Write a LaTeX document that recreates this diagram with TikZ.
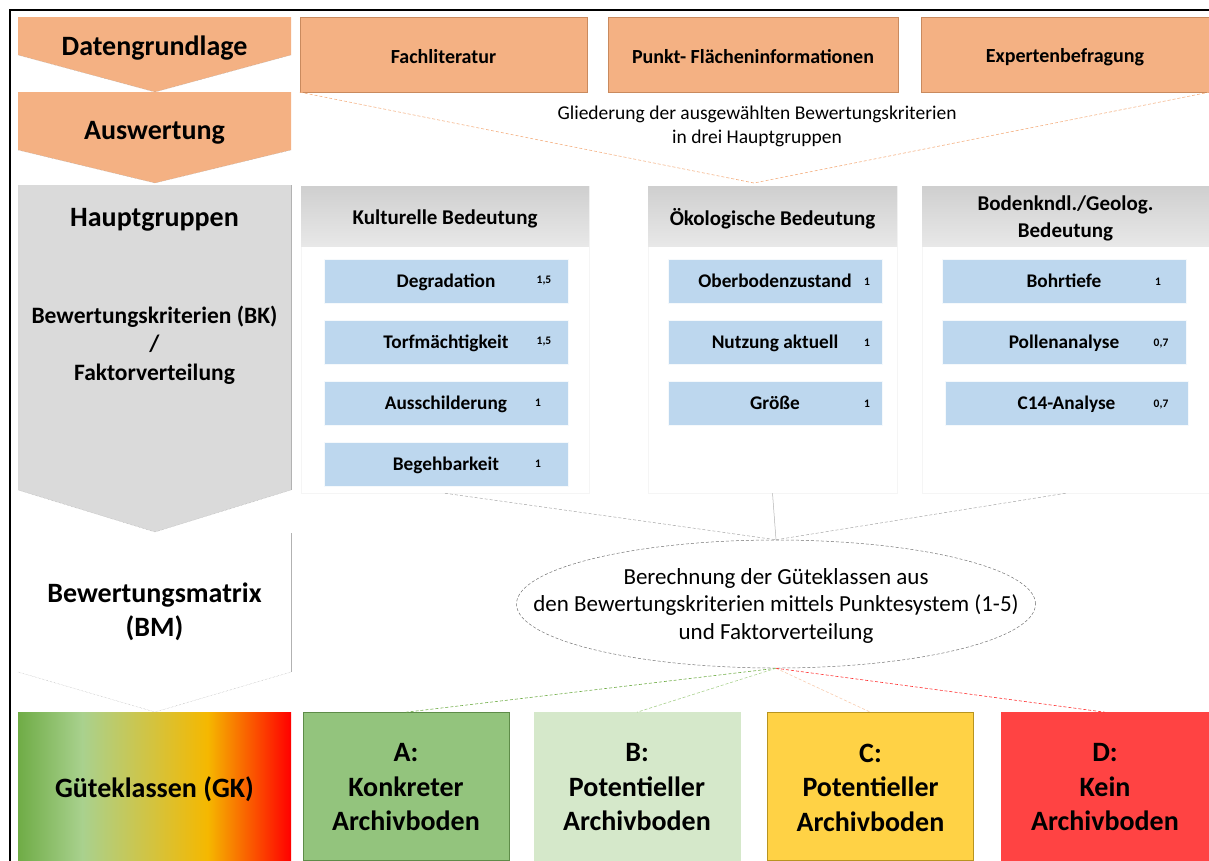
\documentclass[tikz,border=0pt]{standalone}
\usepackage{fontspec}
\setmainfont{Carlito}
\usetikzlibrary{shapes.geometric}
\definecolor{org}{HTML}{F4B183}
\definecolor{orgdark}{HTML}{C98A5E}
\definecolor{orgline}{HTML}{F4B183}
\definecolor{chevgray}{HTML}{DADADA}
\definecolor{headtop}{HTML}{CFCFCF}
\definecolor{headbot}{HTML}{E8E8E8}
\definecolor{critblue}{HTML}{BDD7EE}
\definecolor{gk1}{HTML}{6FAC46}
\definecolor{gk2}{HTML}{A9D18E}
\definecolor{gk3}{HTML}{F5B800}
\definecolor{gk4}{HTML}{FF0000}
\definecolor{cA}{HTML}{93C47D}
\definecolor{cAd}{HTML}{5E8C49}
\definecolor{cB}{HTML}{D5E8CA}
\definecolor{cC}{HTML}{FFD245}
\definecolor{cCd}{HTML}{B8941F}
\definecolor{cD}{HTML}{FF4343}
\definecolor{lA}{HTML}{70AD47}
\definecolor{lB}{HTML}{A9D18E}
\definecolor{lC}{HTML}{F8CBAD}
\definecolor{lD}{HTML}{FF3030}
\pgfdeclarehorizontalshading{gkshade}{100bp}{color(0bp)=(gk1); color(25bp)=(gk1); color(36.8bp)=(gk2); color(59.7bp)=(gk3); color(75bp)=(gk4); color(100bp)=(gk4)}
\begin{document}
\begin{tikzpicture}[x=1pt,y=-1pt,
  bigtxt/.style={font=\fontsize{28}{34}\selectfont\bfseries, align=center, inner sep=0},
  topbox/.style={fill=org, draw=orgdark, line width=0.4pt, minimum height=75, inner sep=0,
    font=\fontsize{20}{24}\selectfont\bfseries},
  grpbox/.style={draw=black!4, line width=0.5pt, minimum height=307, inner sep=0},
  grphead/.style={top color=headtop, bottom color=headbot, draw=none, minimum height=60, inner sep=0,
    font=\fontsize{21}{27}\selectfont\bfseries, align=center},
  crit/.style={fill=critblue, draw=white!85!critblue, line width=0.6pt, minimum height=44, inner sep=0,
    text height=14.4pt, text depth=2pt,
    font=\fontsize{19.3}{23}\selectfont\bfseries},
  factor/.style={font=\fontsize{11.5}{13}\selectfont\bfseries, inner sep=0},
  result/.style={minimum height=148, inner sep=0, line width=0.6pt,
    font=\fontsize{28}{34.5}\selectfont\bfseries, align=center},
  normtxt/.style={font=\fontsize{19.5}{24}\selectfont, align=center, inner sep=0},
  plain/.style={inner sep=0},
  chevedge/.style={gray!70, line width=0.4pt, densely dotted},
  tri/.style={orgline, line width=0.6pt, densely dashed},
  grpline/.style={black!35, line width=0.5pt, densely dashed},
  resline/.style={line width=0.6pt, densely dashed}
]
\useasboundingbox (0,0) rectangle (1209,860);
% outer frame
\draw[black, line width=1.6pt] (10,861) -- (10,10) -- (1210,10);

% left column chevrons
\fill[org] (18,17) -- (291,17) -- (291,55) -- (155,92) -- (18,55) -- cycle;
\draw[chevedge] (291,55) -- (155,92) -- (18,55);
\fill[org] (18,92) -- (291,92) -- (291,150) -- (155,183) -- (18,150) -- cycle;
\draw[chevedge] (291,150) -- (155,183) -- (18,150);
\fill[chevgray] (18,185) -- (291,185) -- (291,490) -- (155,532) -- (18,490) -- cycle;
\draw[gray!60, line width=0.4pt] (291,185) -- (291,490);
\draw[chevedge] (291,490) -- (155,532) -- (18,490);
\draw[gray!60, line width=0.4pt] (291,533) -- (291,672);
\draw[chevedge] (291,672) -- (155,712) -- (18,672);
\shade[shading=gkshade] (18,712) rectangle (291,861);

\node[bigtxt] (dg) at (154.5,48.5) {Datengrundlage};
\node[bigtxt] (aw) at (154.5,132.5) {Auswertung};
\node[bigtxt] (hg) at (154.5,219.5) {Hauptgruppen};
\node[font=\fontsize{23.5}{28.5}\selectfont\bfseries, align=center, inner sep=0] (bk) at (154.5,345) {Bewertungskriterien (BK)\\/\\Faktorverteilung};
\node[bigtxt] (bm) at (154.5,612) {Bewertungsmatrix\\(BM)};
\node[bigtxt] (gk) at (154.5,789.5) {Güteklassen (GK)};

% top data boxes
\node[topbox, minimum width=287] (fach) at (443.5,54.5) {};
\node[topbox, minimum width=290] (punkt) at (753,54.5) {};
\node[topbox, minimum width=288] (exp) at (1065,54.5) {};
\node[plain, font=\fontsize{20}{24}\selectfont\bfseries] (fachT) at (443.5,57) {Fachliteratur};
\node[plain, font=\fontsize{20}{24}\selectfont\bfseries] (punktT) at (753,57) {Punkt- Flächeninformationen};
\node[plain, font=\fontsize{20}{24}\selectfont\bfseries] (expT) at (1065,57) {Expertenbefragung};

\coordinate (apex1) at (754,183);
\draw[tri] (fach.south west) -- (apex1) -- (exp.south east);
\node[normtxt] (glied) at (757,126) {Gliederung der ausgewählten Bewertungskriterien\\in drei Hauptgruppen};

% group containers
\node[grpbox, minimum width=288] (kgrp) at (445,339.5) {};
\node[grpbox, minimum width=249] (ogrp) at (772.5,339.5) {};
\node[grpbox, minimum width=287] (bgrp) at (1065.5,339.5) {};

\node[grphead, minimum width=288] (khead) at (445,216) {};
\node[grphead, minimum width=249] (ohead) at (772.5,216) {};
\node[grphead, minimum width=287] (bhead) at (1065.5,216) {};
\node[plain, font=\fontsize{21}{27}\selectfont\bfseries] (kheadT) at (445,219) {Kulturelle Bedeutung};
\node[plain, font=\fontsize{21}{27}\selectfont\bfseries] (oheadT) at (772.5,219) {Ökologische Bedeutung};
\node[plain, font=\fontsize{21}{27}\selectfont\bfseries, align=center] (bheadT) at (1065.5,218) {Bodenkndl./Geolog.\\Bedeutung};

% criteria
\node[crit, minimum width=244] (k1) at (446,281) {Degradation};
\node[crit, minimum width=244] (k2) at (446,342) {Torfmächtigkeit};
\node[crit, minimum width=244] (k3) at (446,403) {Ausschilderung};
\node[crit, minimum width=244] (k4) at (446,464) {Begehbarkeit};
\node[factor] (fk1) at (544,281) {1,5};
\node[factor] (fk2) at (544,342) {1,5};
\node[factor] (fk3) at (538,403) {1};
\node[factor] (fk4) at (538,464) {1};

\node[crit, minimum width=214] (o1) at (775,281) {Oberbodenzustand};
\node[crit, minimum width=214] (o2) at (775,342) {Nutzung aktuell};
\node[crit, minimum width=214] (o3) at (775,403) {Größe};
\node[factor] (fo1) at (867,282) {1};
\node[factor] (fo2) at (867,343) {1};
\node[factor] (fo3) at (867,404) {1};

\node[crit, minimum width=244] (b1) at (1064,281) {Bohrtiefe};
\node[crit, minimum width=244] (b2) at (1064,342) {Pollenanalyse};
\node[crit, minimum width=243] (b3) at (1066.5,403) {C14-Analyse};
\node[factor] (fb1) at (1158,282) {1};
\node[factor] (fb2) at (1161,343) {0,7};
\node[factor] (fb3) at (1161,404) {0,7};

% ellipse
\node[ellipse, draw=black!55, densely dashed, line width=0.5pt, minimum width=519, minimum height=128, inner sep=0] (ell) at (776,604) {};
\node[plain, font=\fontsize{23}{27.5}\selectfont, align=center] (ellT) at (776,605.5)
  {Berechnung der Güteklassen aus\\den Bewertungskriterien mittels Punktesystem (1-5)\\und Faktorverteilung};

\draw[grpline] (kgrp.south) -- (ell.north);
\draw[grpline] (bgrp.south) -- (ell.north);
\draw[black!30, line width=0.5pt] (ogrp.south) -- (ell.north);

% result boxes
\node[result, fill=cA, draw=cAd, minimum width=206] (rA) at (406,786.5) {};
\node[result, fill=cB, draw=cB, minimum width=206] (rB) at (637,786.5) {};
\node[result, fill=cC, draw=cCd, minimum width=206] (rC) at (870.5,786.5) {};
\node[result, fill=cD, draw=cD, minimum width=208] (rD) at (1105,786.5) {};
\node[result, minimum height=0] (rAT) at (406,787.5) {A:\\Konkreter\\Archivboden};
\node[result, minimum height=0] (rBT) at (637,787.5) {B:\\Potentieller\\Archivboden};
\node[result, minimum height=0] (rCT) at (870.5,787.5) {C:\\Potentieller\\Archivboden};
\node[result, minimum height=0] (rDT) at (1105,787.5) {D:\\Kein\\Archivboden};

\draw[resline, lA] (ell.south) -- (rA.north);
\draw[resline, lB] (ell.south) -- (rB.north);
\draw[resline, lC] (ell.south) -- (rC.north);
\draw[resline, lD] (ell.south) -- (rD.north);
\end{tikzpicture}
\end{document}
